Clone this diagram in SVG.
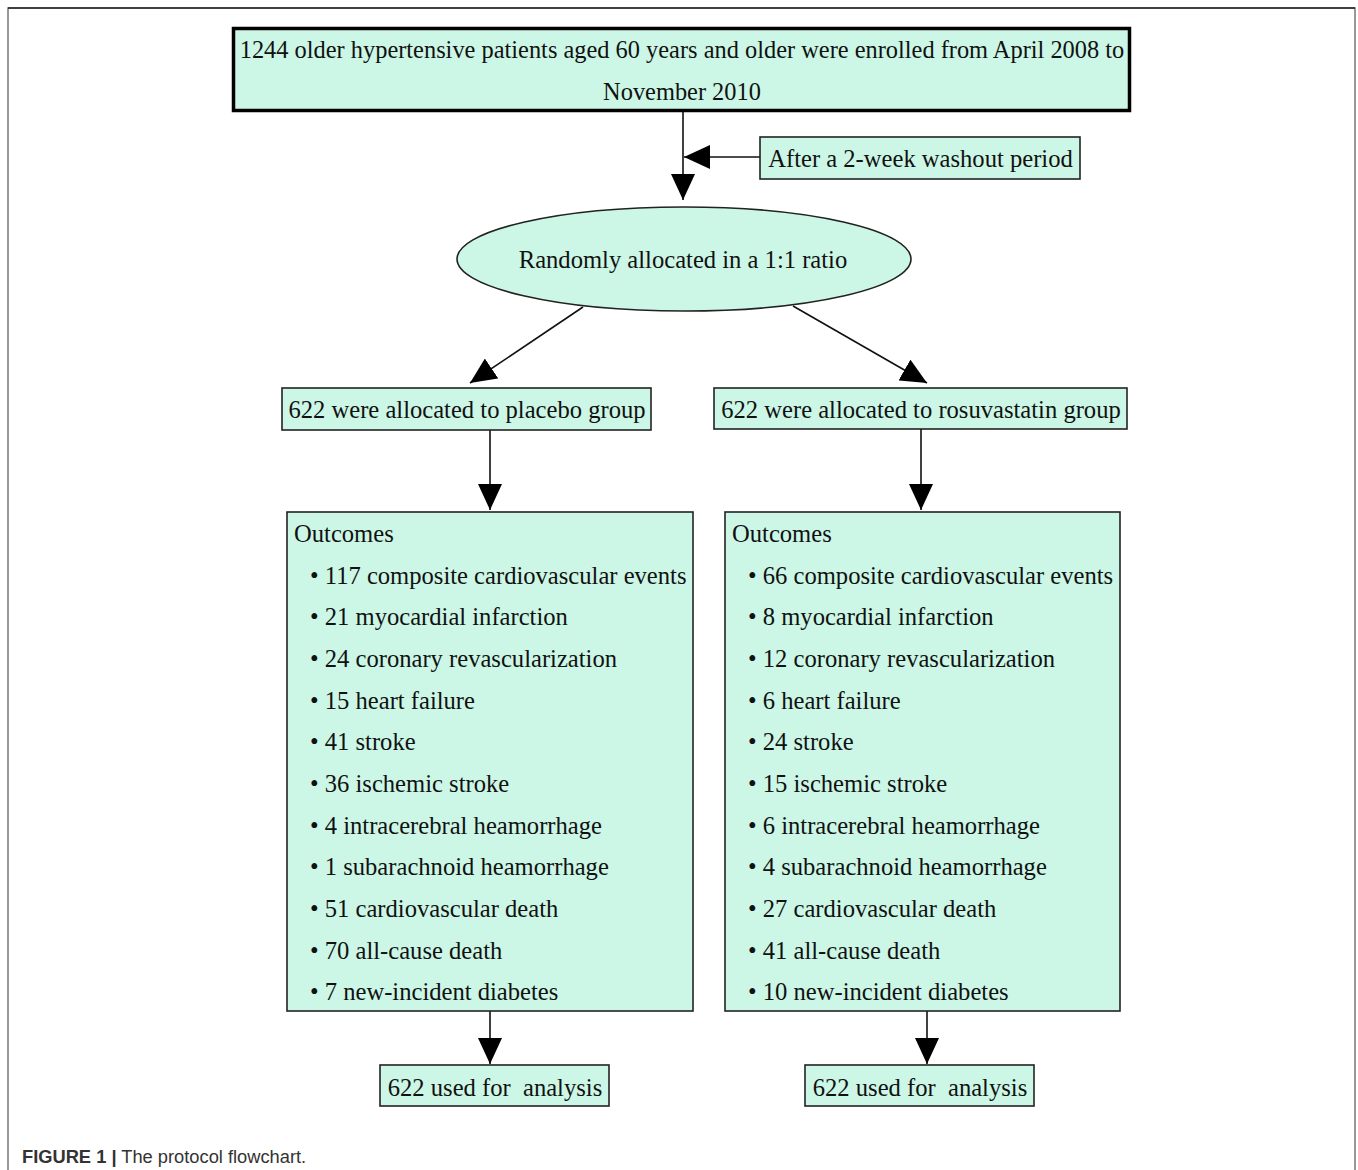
<svg xmlns="http://www.w3.org/2000/svg" width="1358" height="1170" viewBox="0 0 1358 1170">
<style>
.box{fill:#ccf7e6;stroke:#222;stroke-width:1.6}
.t{font-family:"Liberation Serif","Times New Roman",serif;font-size:24.6px;fill:#111}
.edge{stroke:#111;stroke-width:1.6;fill:none}
</style>
<defs>
<marker id="ah" markerUnits="userSpaceOnUse" markerWidth="26" markerHeight="24" refX="26" refY="12" orient="auto">
<path d="M0,0 L26,12 L0,24 z" fill="#000"/>
</marker>
</defs>
<rect x="0" y="0" width="1358" height="1170" fill="#fff"/>
<path d="M8,1170 V8 H1355 V1170" fill="none" stroke="#777" stroke-width="1.5"/>
<path d="M8,8 H1355" stroke="#222" stroke-width="1.5"/>

<g id="connectors">
<path class="edge" d="M683,111 V200" marker-end="url(#ah)"/>
<path class="edge" d="M760,157 H684" marker-end="url(#ah)"/>
<path class="edge" d="M583,307 L470,383" marker-end="url(#ah)"/>
<path class="edge" d="M793,306 L927,383" marker-end="url(#ah)"/>
<path class="edge" d="M490,430 V510" marker-end="url(#ah)"/>
<path class="edge" d="M921,429 V510" marker-end="url(#ah)"/>
<path class="edge" d="M490,1011 V1064" marker-end="url(#ah)"/>
<path class="edge" d="M927,1011 V1064" marker-end="url(#ah)"/>
</g>

<g id="enrolled">
<rect x="233.5" y="28.5" width="896" height="82" fill="#ccf7e6" stroke="#000" stroke-width="3.5"/>
<text class="t" x="682" y="58" text-anchor="middle" style="font-size:24.4px">1244 older hypertensive patients aged 60 years and older were enrolled from April 2008 to</text>
<text class="t" x="682" y="100" text-anchor="middle" style="font-size:24.4px">November 2010</text>
</g>

<g id="washout">
<rect class="box" x="760" y="137" width="320" height="42"/>
<text class="t" x="920.5" y="167" text-anchor="middle">After a 2-week washout period</text>
</g>

<g id="randomized">
<ellipse class="box" cx="684" cy="259" rx="227" ry="52"/>
<text class="t" x="683" y="268" text-anchor="middle">Randomly allocated in a 1:1 ratio</text>
</g>

<g id="placebo">
<rect class="box" x="282" y="388" width="369" height="42"/>
<text class="t" x="467" y="418" text-anchor="middle">622 were allocated to placebo group</text>
</g>

<g id="rosuvastatin">
<rect class="box" x="714" y="388" width="413" height="41"/>
<text class="t" x="921" y="418" text-anchor="middle">622 were allocated to rosuvastatin group</text>
</g>

<g id="outcomes-placebo">
<rect class="box" x="287" y="512" width="406" height="499"/>
<text class="t" x="294" y="542">Outcomes</text>
<text class="t" x="310" y="584">• 117 composite cardiovascular events</text>
<text class="t" x="310" y="625">• 21 myocardial infarction</text>
<text class="t" x="310" y="667">• 24 coronary revascularization</text>
<text class="t" x="310" y="709">• 15 heart failure</text>
<text class="t" x="310" y="750">• 41 stroke</text>
<text class="t" x="310" y="792">• 36 ischemic stroke</text>
<text class="t" x="310" y="834">• 4 intracerebral heamorrhage</text>
<text class="t" x="310" y="875">• 1 subarachnoid heamorrhage</text>
<text class="t" x="310" y="917">• 51 cardiovascular death</text>
<text class="t" x="310" y="959">• 70 all-cause death</text>
<text class="t" x="310" y="1000">• 7 new-incident diabetes</text>
</g>

<g id="outcomes-rosuvastatin">
<rect class="box" x="725" y="512" width="395" height="499"/>
<text class="t" x="732" y="542">Outcomes</text>
<text class="t" x="748" y="584">• 66 composite cardiovascular events</text>
<text class="t" x="748" y="625">• 8 myocardial infarction</text>
<text class="t" x="748" y="667">• 12 coronary revascularization</text>
<text class="t" x="748" y="709">• 6 heart failure</text>
<text class="t" x="748" y="750">• 24 stroke</text>
<text class="t" x="748" y="792">• 15 ischemic stroke</text>
<text class="t" x="748" y="834">• 6 intracerebral heamorrhage</text>
<text class="t" x="748" y="875">• 4 subarachnoid heamorrhage</text>
<text class="t" x="748" y="917">• 27 cardiovascular death</text>
<text class="t" x="748" y="959">• 41 all-cause death</text>
<text class="t" x="748" y="1000">• 10 new-incident diabetes</text>
</g>

<g id="analysis-placebo">
<rect class="box" x="380" y="1065" width="229" height="41"/>
<text class="t" x="495" y="1096" text-anchor="middle" xml:space="preserve">622 used for  analysis</text>
</g>

<g id="analysis-rosuvastatin">
<rect class="box" x="805" y="1065" width="229" height="41"/>
<text class="t" x="920" y="1096" text-anchor="middle" xml:space="preserve">622 used for  analysis</text>
</g>

<text x="22" y="1163" font-family="'Liberation Sans',Arial,sans-serif" font-size="18.3" fill="#333"><tspan font-weight="bold">FIGURE 1 |</tspan> The protocol flowchart.</text>
</svg>
